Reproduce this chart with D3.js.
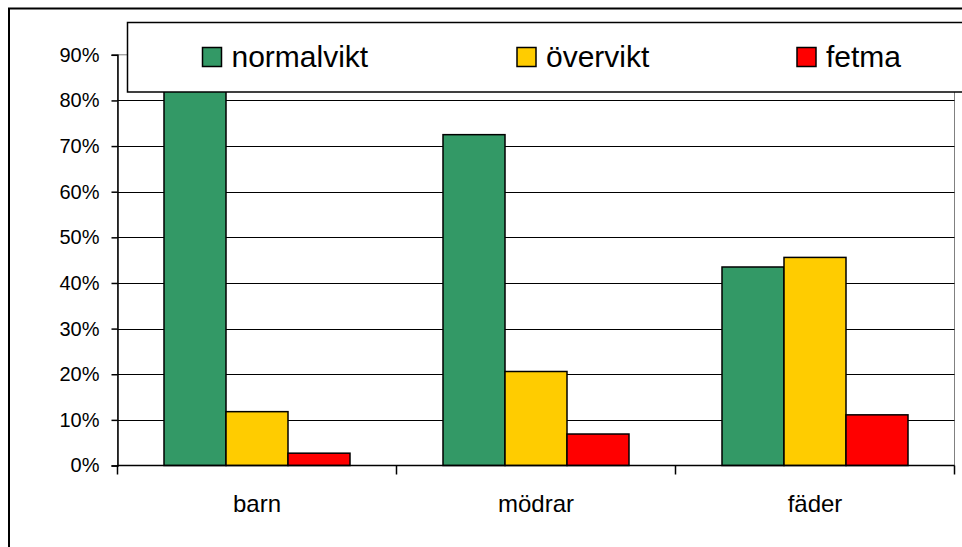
<!DOCTYPE html>
<html>
<head>
<meta charset="utf-8">
<script src="https://cdn.jsdelivr.net/npm/d3@7"></script>
<style>
  body { margin: 0; background: #fff; }
  svg { display: block; font-family: "Liberation Sans", Arial, sans-serif; }
</style>
</head>
<body>
<svg width="962" height="547"></svg>
<script>
  // data
  var categories = ["barn", "mödrar", "fäder"];
  var seriesNames = ["normalvikt", "övervikt", "fetma"];
  var normalvikt = [0.855, 0.725, 0.435];
  var overvikt = [0.118, 0.206, 0.456];
  var fetma = [0.027, 0.069, 0.111];
  var yTicks = [0, 0.1, 0.2, 0.3, 0.4, 0.5, 0.6, 0.7, 0.8, 0.9];
  var colors = ["#339966", "#FFCC00", "#FF0000"];

(function() {
  var series = [normalvikt, overvikt, fetma];

  var svg = d3.select("svg");
  var left = 117.5, right = 954.5, plotTop = 54.8, bottom = 465.5;

  var x = d3.scaleBand().domain(categories).range([left, right]).paddingInner(0).paddingOuter(0);
  // gap between groups is 1.5 bar widths (0.75 on each side)
  var x1 = d3.scaleBand().domain(seriesNames).range([0, x.bandwidth()]).paddingInner(0).paddingOuter(0.75);
  var y = d3.scaleLinear().domain([0, 0.9]).range([bottom, plotTop]);

  // outer frame
  svg.append("rect").attr("x", 9).attr("y", 8.5).attr("width", 1000).attr("height", 600)
    .style("fill", "#fff").style("stroke", "#000").style("stroke-width", 2);

  // plot area border
  svg.append("rect").attr("x", left).attr("y", y(0.9)).attr("width", right - left).attr("height", bottom - y(0.9))
    .style("fill", "none").style("stroke", "#808080").style("stroke-width", 1);

  // gridlines
  svg.append("g").selectAll("line").data(yTicks.slice(1, 9)).enter().append("line")
    .attr("x1", left).attr("x2", right)
    .attr("y1", function(d) { return Math.round(y(d)) + 0.5; })
    .attr("y2", function(d) { return Math.round(y(d)) + 0.5; })
    .style("stroke", "#000").style("stroke-width", 1);

  // bars
  var groups = svg.append("g").selectAll("g").data(series).enter().append("g")
    .style("fill", function(d, i) { return colors[i]; });
  groups.selectAll("rect").data(function(d, i) { return d.map(function(v, j) { return { s: i, c: j, v: v }; }); })
    .enter().append("rect")
    .attr("x", function(d) { return x(categories[d.c]) + x1(seriesNames[d.s]); })
    .attr("width", x1.bandwidth())
    .attr("y", function(d) { return y(d.v); })
    .attr("height", function(d) { return bottom - y(d.v); })
    .style("stroke", "#000").style("stroke-width", 1.5);

  // y axis
  var yAxis = d3.axisLeft(y).tickValues(yTicks).tickSize(6).tickPadding(12)
    .tickFormat(d3.format(".0%"));
  var gy = svg.append("g").attr("transform", "translate(" + left + ",0)").call(yAxis);
  gy.select(".domain").style("stroke", "#000").style("stroke-width", 1.5);
  gy.selectAll(".tick line").style("stroke", "#000").style("stroke-width", 1.5);
  gy.selectAll("text").style("font-size", "20px").style("fill", "#000")
    .style("font-family", "'Liberation Sans', Arial, sans-serif");

  // x axis
  var xTickPos = d3.range(categories.length + 1).map(function(i) { return left + i * x.bandwidth(); });
  svg.append("line").attr("x1", left).attr("x2", right).attr("y1", bottom).attr("y2", bottom)
    .style("stroke", "#000").style("stroke-width", 1.5);
  svg.append("g").selectAll("line").data(xTickPos).enter().append("line")
    .attr("x1", function(d) { return d; }).attr("x2", function(d) { return d; })
    .attr("y1", bottom).attr("y2", bottom + 9)
    .style("stroke", "#000").style("stroke-width", 1.5);
  svg.append("g").selectAll("text").data(categories).enter().append("text")
    .attr("x", function(d) { return x(d) + x.bandwidth() / 2; })
    .attr("y", 512)
    .attr("text-anchor", "middle")
    .style("font-size", "24px")
    .text(function(d) { return d; });

  // legend
  svg.append("rect").attr("x", 127.5).attr("y", 22.5).attr("width", 900).attr("height", 69.5)
    .style("fill", "#fff").style("stroke", "#000").style("stroke-width", 1.5);
  var legendX = [202.5, 517, 797];
  var leg = svg.append("g").selectAll("g").data(seriesNames).enter().append("g")
    .attr("transform", function(d, i) { return "translate(" + legendX[i] + ",47.5)"; });
  leg.append("rect").attr("width", 19).attr("height", 19)
    .style("fill", function(d, i) { return colors[i]; })
    .style("stroke", "#000").style("stroke-width", 1.5);
  leg.append("text").attr("x", 29).attr("y", 19.8)
    .style("font-size", "30px")
    .text(function(d) { return d; });
})();
</script>
</body>
</html>
